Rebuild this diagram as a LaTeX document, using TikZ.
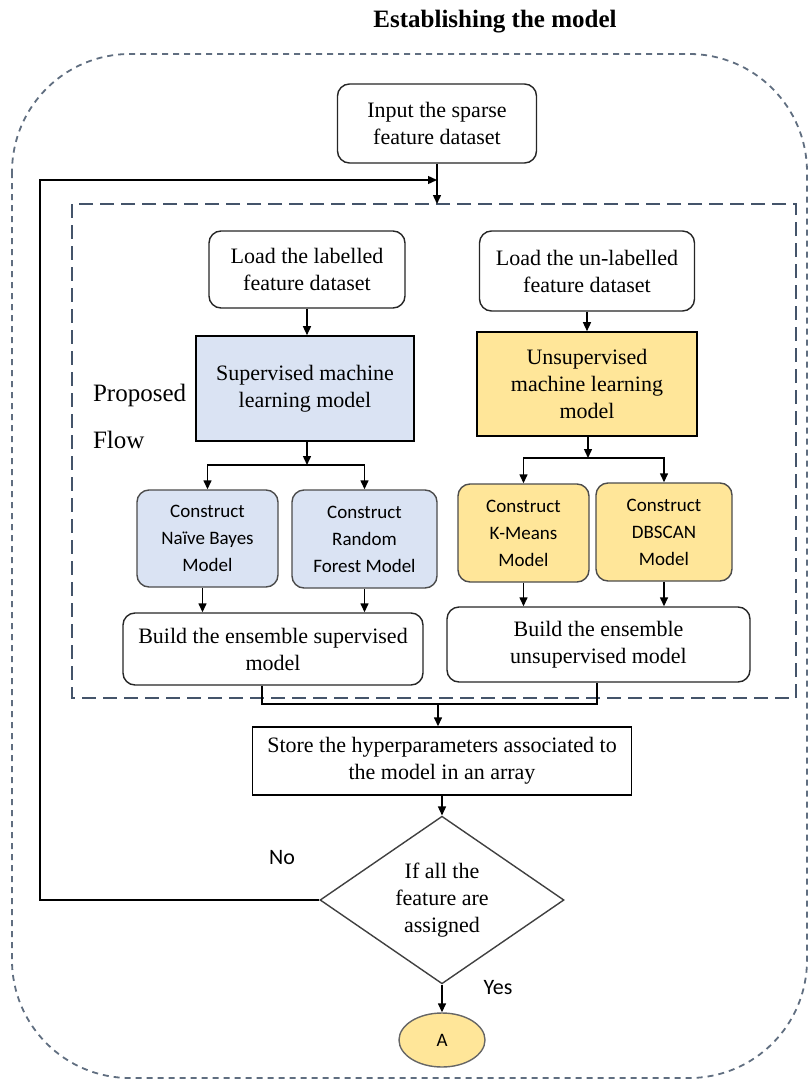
\documentclass[tikz,border=0pt]{standalone}
\usepackage{fontspec}
\setmainfont{Liberation Serif}
\newfontfamily\calibri{Carlito}
\usetikzlibrary{arrows.meta,shapes.geometric}

\definecolor{supBlue}{RGB}{218,227,243}
\definecolor{unsupGold}{RGB}{255,230,153}
\definecolor{frameBlue}{RGB}{68,84,106}

\begin{document}
\begin{tikzpicture}[x=0.5pt, y=-0.5pt, font=\fontsize{11}{13.5}\selectfont,
		flowbox/.style={draw=black!85, line width=0.7pt, rounded corners=6pt, fill=white, align=center, inner sep=0pt},
		modelbox/.style={draw=black, line width=0.8pt, align=center, inner sep=0pt},
		algbox/.style={flowbox, draw=black!70, font=\calibri\fontsize{9.5}{13.5}\selectfont},
		arr/.style={-{Triangle[length=4.5pt,width=4pt]}, line width=0.7pt},
		link/.style={line width=0.7pt}]
		\useasboundingbox (0,0) rectangle (810,1081);
		% title and frames (one x unit is one pixel of the page)
		\node[font=\fontsize{12.5}{15}\selectfont\bfseries] (title) at (495,22) {Establishing the model};
		\draw[frameBlue!85, line width=0.9pt, dash pattern=on 3pt off 2.5pt, rounded corners=59pt] (12,54) rectangle (807,1078);
		\draw[frameBlue, line width=1pt, dash pattern=on 7pt off 3.5pt] (72,204) rectangle (796,698);
		\coordinate (flowTop) at (437,204);
		\coordinate (loopCorner) at (40,180);
		\coordinate (loopEnd) at (437,180);
		\node[anchor=west, align=left, font=\fontsize{12.5}{23.5}\selectfont] (flowLabel) at (86,416) {Proposed\\Flow};
		% input
		\node[flowbox, minimum width=99.5pt, minimum height=39.5pt] (input) at (437,123.5) {Input the sparse\\feature dataset};
		% supervised branch
		\node[flowbox, minimum width=98pt, minimum height=38.5pt] (loadSup) at (307,269.5) {Load the labelled\\feature dataset};
		\node[modelbox, fill=supBlue, minimum width=109pt, minimum height=52.5pt] (sup) at (305,388.5) {Supervised machine\\learning model};
		\coordinate (supSplit) at (307,465);
		\node[algbox, fill=supBlue, minimum width=70.5pt, minimum height=48.5pt] (naiveBayes) at (207.5,538.5) {Construct\\Naïve Bayes\\Model};
		\node[algbox, fill=supBlue, minimum width=72.5pt, minimum height=49pt] (randForest) at (364.5,539) {Construct\\Random\\Forest Model};
		\node[flowbox, minimum width=150pt, minimum height=36pt] (ensSup) at (273,649) {Build the ensemble supervised\\model};
		% unsupervised branch
		\node[flowbox, minimum width=107.5pt, minimum height=40pt] (loadUnsup) at (587,271) {Load the un-labelled\\feature dataset};
		\node[modelbox, fill=unsupGold, minimum width=110pt, minimum height=52pt] (unsup) at (587,384) {Unsupervised\\machine learning\\model};
		\coordinate (unsupSplit) at (588,458);
		\node[algbox, fill=unsupGold, minimum width=65.5pt, minimum height=49pt] (kMeans) at (523.5,533) {Construct\\K-Means\\Model};
		\node[algbox, fill=unsupGold, minimum width=68pt, minimum height=49pt] (dbscan) at (664,532) {Construct\\DBSCAN\\Model};
		\node[flowbox, minimum width=151.5pt, minimum height=37.5pt] (ensUnsup) at (598.5,644.5) {Build the ensemble\\unsupervised model};
		% merge, store and check
		\coordinate (merge) at (438,704);
		\node[modelbox, line width=0.7pt, minimum width=189.5pt, minimum height=34pt] (store) at (442,761) {Store the hyperparameters associated to\\the model in an array};
		\node[diamond, draw=black!75, line width=0.7pt, minimum width=122pt, minimum height=83pt, inner sep=0pt, align=center] (check) at (442,900) {If all the\\feature are\\assigned};
		\node[ellipse, draw=black!60, fill=unsupGold, line width=0.7pt, minimum width=43pt, minimum height=27pt, inner sep=0pt, font=\calibri\fontsize{9.5}{11}\selectfont] (endA) at (442,1040) {A};
		\node[font=\calibri\fontsize{11}{13}\selectfont] (noLbl) at (282,858) {No};
		\node[font=\calibri\fontsize{11}{13}\selectfont] (yesLbl) at (498,988) {Yes};
		% connectors
		\draw[arr] (input) -- (flowTop);
		\draw[arr] (check.west) -| (loopCorner) -- (loopEnd);
		\draw[arr] (loadSup) -- (loadSup |- sup.north);
		\draw[arr] (sup.south -| supSplit) -- (supSplit);
		\draw[arr] (supSplit) -| (naiveBayes);
		\draw[arr] (supSplit) -| (randForest);
		\draw[arr] ([xshift=-2.5pt]naiveBayes.south) -- ([xshift=-2.5pt]naiveBayes.south |- ensSup.north);
		\draw[arr] (randForest) -- (randForest |- ensSup.north);
		\draw[arr] (loadUnsup) -- (loadUnsup |- unsup.north);
		\draw[arr] (unsup.south -| unsupSplit) -- (unsupSplit);
		\draw[arr] (unsupSplit) -| (kMeans);
		\draw[arr] (unsupSplit) -| (dbscan);
		\draw[arr] (kMeans) -- (kMeans |- ensUnsup.north);
		\draw[arr] (dbscan) -- (dbscan |- ensUnsup.north);
		\draw[link] ([xshift=-5.5pt]ensSup.south) |- (merge) -| ([xshift=-0.75pt]ensUnsup.south);
		\draw[arr] (merge) -- (merge |- store.north);
		\draw[arr] (store) -- (check);
		\draw[arr] (check) -- (endA);
	\end{tikzpicture}
\end{document}
